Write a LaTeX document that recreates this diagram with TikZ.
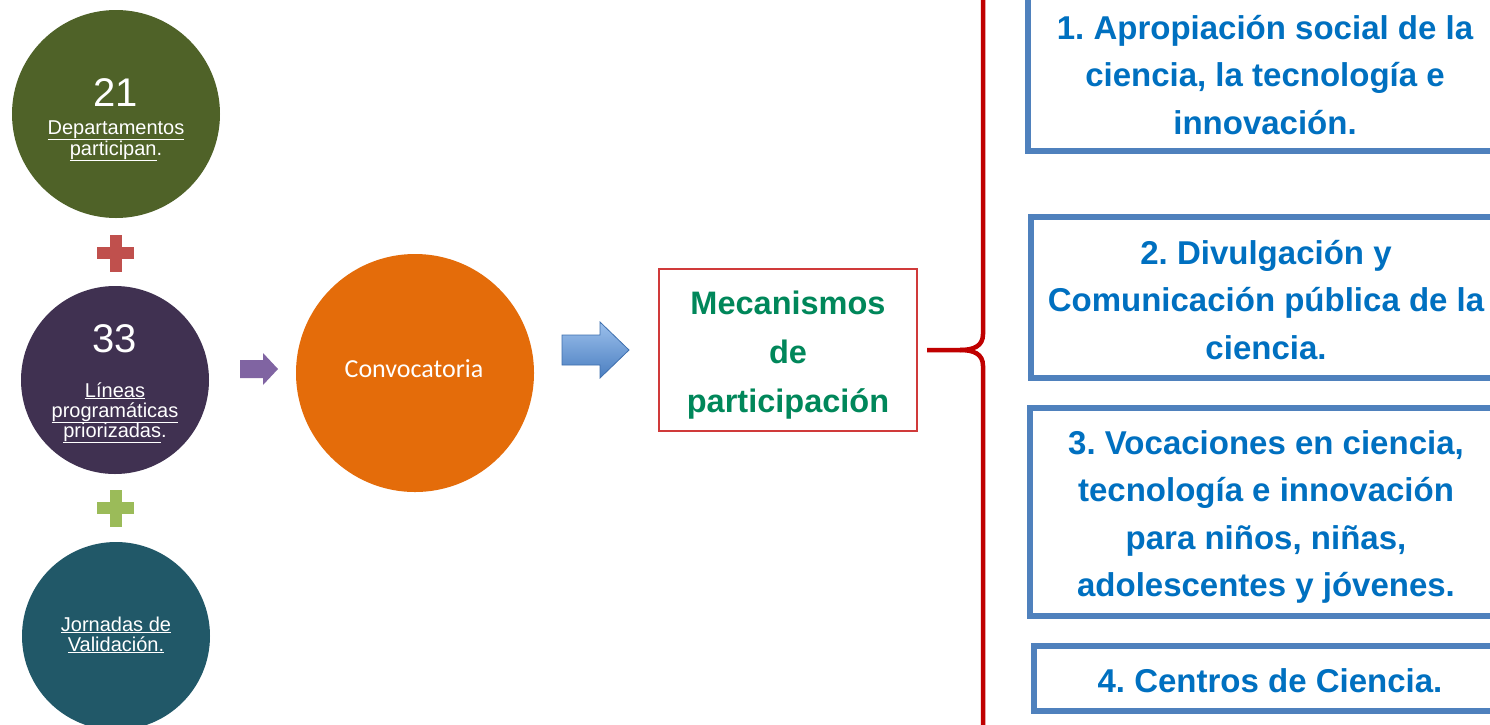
\documentclass[tikz,border=0pt]{standalone}
\usepackage{fontspec}
\setmainfont{Liberation Sans}
\newfontfamily\calib{Carlito}
\frenchspacing
\definecolor{cgreen}{HTML}{4F6228}
\definecolor{cpurple}{HTML}{403151}
\definecolor{cteal}{HTML}{215868}
\definecolor{corange}{HTML}{E46C0A}
\definecolor{cplusred}{HTML}{C0504D}
\definecolor{cplusgreen}{HTML}{9BBB59}
\definecolor{carrowpurple}{HTML}{8064A2}
\definecolor{cbluelight}{HTML}{9CC0EC}
\definecolor{cbluedark}{HTML}{4A7EC0}
\definecolor{cblueline}{HTML}{3E6FAE}
\definecolor{cmecred}{HTML}{D03A3A}
\definecolor{cmectext}{HTML}{00875A}
\definecolor{cbrace}{HTML}{C00000}
\definecolor{cboxline}{HTML}{4F81BD}
\definecolor{cboxtext}{HTML}{0070C0}
\tikzset{
  bigcirc/.style={circle, inner sep=0pt},
  numtext/.style={text=white, font=\fontsize{40}{40}\selectfont, anchor=base, inner sep=0pt},
  smalltext/.style={text=white, font=\fontsize{20}{20}\selectfont, anchor=base, inner sep=0pt},
  mectext/.style={text=cmectext, font=\bfseries\fontsize{32.5}{49}\selectfont, align=center, inner sep=0pt},
  bluebox/.style={draw=cboxline, line width=5.5pt, inner sep=0pt},
  bluetext/.style={text=cboxtext, font=\bfseries\fontsize{33}{47.5}\selectfont, align=center, inner sep=0pt},
}
\begin{document}
\begin{tikzpicture}[x=1pt,y=-1pt]
\useasboundingbox (0,0) rectangle (1490,724);
\clip (0,0) rectangle (1490,724);
\fill[white] (0,0) rectangle (1490,724);

% left circles
\node[bigcirc, fill=cgreen, minimum size=208pt] (c1) at (116,114) {};
\node[numtext] (n1) at (116,106) {21};
\node[smalltext] (c1a) at (116,134) {\underline{Departamentos}};
\node[smalltext] (c1b) at (116,155) {\underline{participan}.};

\node[bigcirc, fill=cpurple, minimum size=188pt] (c2) at (115,380) {};
\node[numtext] (n2) at (115,352) {33};
\node[smalltext] (c2a) at (115,397) {\underline{Líneas}};
\node[smalltext] (c2b) at (115,417) {\underline{programáticas}};
\node[smalltext] (c2c) at (115,437) {\underline{priorizadas}.};

\node[bigcirc, fill=cteal, minimum size=188pt] (c3) at (116,636) {};
\node[smalltext] (c3a) at (116,631) {\underline{Jornadas de}};
\node[smalltext] (c3b) at (116,651) {\underline{Validación.}};

% plus signs
\fill[cplusred] (97,247) rectangle (134,259);
\fill[cplusred] (109.5,235) rectangle (121.5,272);
\fill[cplusgreen] (97,502) rectangle (134,514);
\fill[cplusgreen] (109.5,490) rectangle (121.5,527);

% purple arrow
\fill[carrowpurple] (240,360) -- (263,360) -- (263,353) -- (278,369) -- (263,385) -- (263,378) -- (240,378) -- cycle;

% orange circle
\node[bigcirc, fill=corange, minimum size=238pt] (conv) at (415,373) {};
\node[text=white, font=\calib\fontsize{26}{26}\selectfont, anchor=base, inner sep=0pt] (convt) at (414,377) {Convocatoria};

% blue arrow
\path[draw=cblueline, line width=0.8pt, top color=cbluelight, bottom color=cbluedark]
  (562,335) -- (600,335) -- (600,322) -- (629,350) -- (600,378) -- (600,365) -- (562,365) -- cycle;

% mecanismos box
\node[draw=cmecred, line width=1.2pt, minimum width=258pt, minimum height=162pt, inner sep=0pt] (mec) at (788,350) {};
\node[mectext] (mect) at (788,355) {Mecanismos\\de\\participación};

% brace
\coordinate (tip) at (927,350);
\coordinate (btop) at (983,-10);
\coordinate (bbot) at (983,740);
\draw[cbrace, line width=4.5pt] (btop) -- (983,334) .. controls (983,346) and (974,350) .. (960,350) -- (tip);
\draw[cbrace, line width=4.5pt] (960,350) .. controls (974,350) and (983,354) .. (983,366) -- (bbot);

% blue boxes
\node[bluebox, minimum width=472pt, minimum height=156pt] (b1) at (1264,73) {};
\node[bluetext] (t1) at (1265,75) {1. Apropiación social de la\\ciencia, la tecnología e\\innovación.};

\node[bluebox, minimum width=469pt, minimum height=161pt] (b2) at (1265.5,297.5) {};
\node[bluetext] (t2) at (1266,300) {2. Divulgación y\\Comunicación pública de la\\ciencia.};

\node[bluebox, minimum width=470pt, minimum height=208pt] (b3) at (1265,512) {};
\node[bluetext] (t3) at (1266,517) {3. Vocaciones en ciencia,\\tecnología e innovación\\para niños, niñas,\\adolescentes y jóvenes.};

\node[bluebox, minimum width=466pt, minimum height=65pt] (b4) at (1267,678.5) {};
\node[bluetext] (t4) at (1270,681) {4. Centros de Ciencia.};
\end{tikzpicture}
\end{document}
